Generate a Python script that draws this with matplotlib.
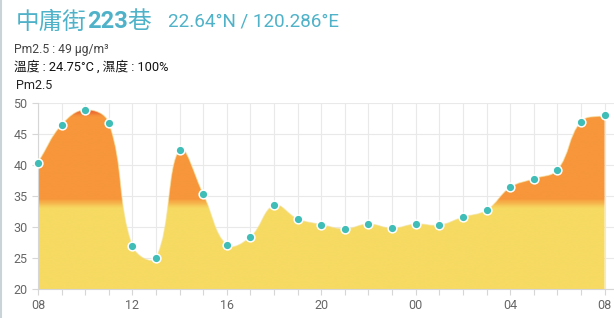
import numpy as np
import matplotlib
matplotlib.use("Agg")
import matplotlib.pyplot as plt
from matplotlib.path import Path
from matplotlib.patches import PathPatch
from matplotlib.colors import LinearSegmentedColormap

plt.rcParams['font.family'] = ['Roboto', 'Noto Sans CJK TC', 'DejaVu Sans']

# hourly PM2.5 readings, 08:00 -> 08:00 next day
hours = ["08", "09", "10", "11", "12", "13", "14", "15", "16", "17", "18", "19",
         "20", "21", "22", "23", "00", "01", "02", "03", "04", "05", "06", "07", "08"]
pm25 = [40.4, 46.5, 48.9, 46.8, 26.9, 25.0, 42.5, 35.3, 27.1, 28.4, 33.5, 31.3,
        30.4, 29.7, 30.5, 29.8, 30.5, 30.3, 31.6, 32.7, 36.4, 37.8, 39.2, 47.0, 48.0]
yticks = [20, 25, 30, 35, 40, 45, 50]

TEAL = "#4fb2c8"
DOT = "#3fbdb6"
GRID = "#e9e9e9"
INK2 = "#666666"
CJK = ['Noto Sans CJK TC', 'DejaVu Sans']

W, H = 614, 318
fig = plt.figure(figsize=(W / 100, H / 100), dpi=100)
ax = fig.add_axes([38 / W, 1 - 289 / H, (W - 38) / W, 186 / H])

x = np.arange(len(pm25), dtype=float)
y = np.array(pm25, float)

# chart.js style bezier control points (tension .4), distances in pixel space
sx, sy, t = 23.63, 6.2, 0.4
cp_prev, cp_next = [], []
for i in range(len(x)):
    p = np.array([x[i], y[i]])
    a = np.array([x[max(i - 1, 0)], y[max(i - 1, 0)]])
    b = np.array([x[min(i + 1, len(x) - 1)], y[min(i + 1, len(x) - 1)]])
    d01 = np.hypot((p[0] - a[0]) * sx, (p[1] - a[1]) * sy)
    d12 = np.hypot((b[0] - p[0]) * sx, (b[1] - p[1]) * sy)
    tot = d01 + d12 if d01 + d12 else 1
    fa, fb = t * d01 / tot, t * d12 / tot
    cp_prev.append(p - fa * (b - a))
    cp_next.append(p + fb * (b - a))

verts = [(x[0], y[0])]
codes = [Path.MOVETO]
for i in range(len(x) - 1):
    verts += [tuple(cp_next[i]), tuple(cp_prev[i + 1]), (x[i + 1], y[i + 1])]
    codes += [Path.CURVE4] * 3
line_path = Path(verts, codes)
fill_verts = verts + [(x[-1], 20), (x[0], 20), (x[0], y[0])]
fill_codes = codes + [Path.LINETO, Path.LINETO, Path.CLOSEPOLY]
fill_path = Path(fill_verts, fill_codes)

# grid
ax.set_xlim(0, 24.4)
ax.set_ylim(20, 50)
ax.set_xticks(range(0, 25))
ax.set_xticklabels([h if i % 4 == 0 else "" for i, h in enumerate(hours)])
ax.set_yticks(yticks)
ax.grid(color=GRID, lw=0.8)
ax.set_axisbelow(True)
for s in ("top", "right"):
    ax.spines[s].set_visible(False)
for s in ("left", "bottom"):
    ax.spines[s].set_color("#d6d6d6")
    ax.spines[s].set_linewidth(0.8)
ax.tick_params(colors="#d6d6d6", labelcolor=INK2, labelsize=9, length=4, width=0.8)

# value-coloured gradient fill
cmap = LinearSegmentedColormap.from_list("pm", [
    (0.0, "#f6da62"), (0.435, "#f6da62"), (0.485, "#f7963b"),
    (0.93, "#f7963b"), (0.97, "#e8582e"), (1.0, "#e0402a")])
grad = np.linspace(0, 1, 300).reshape(-1, 1)
im = ax.imshow(grad, extent=(0, 24, 20, 50), origin="lower", aspect="auto",
               cmap=cmap, zorder=2, interpolation="bilinear")
patch = PathPatch(fill_path, transform=ax.transData, facecolor="none", edgecolor="none")
ax.add_patch(patch)
im.set_clip_path(patch)
ax.add_patch(PathPatch(line_path, facecolor="none", edgecolor="#f4e3a0", lw=0.8,
                       alpha=0.6, zorder=3))
ax.plot(x, y, "o", ms=6.3, mfc=DOT, mec="white", mew=1.1, zorder=5, clip_on=False)

# header texts
fig.canvas.draw()
r = fig.canvas.get_renderer()
xp = 16
for txt, wt, fam in (("中庸街", "light", CJK), ("223", "bold", ["Roboto"]), ("巷", "light", CJK)):
    tt = fig.text(xp / W, 1 - 22 / H, txt, fontsize=17, color=TEAL, weight=wt,
                  family=fam, va="center", ha="left")
    xp += tt.get_window_extent(r).width
fig.text(168 / W, 1 - 22 / H, "22.64°N / 120.286°E", fontsize=13.6, color=TEAL,
         va="center", ha="left")
fig.text(14 / W, 1 - 50 / H, "Pm2.5 : 49 μg/m³", fontsize=8.7, color="#444444",
         va="center", ha="left")
fig.text(14 / W, 1 - 67 / H, "溫度 : 24.75°C , 濕度 : 100%", fontsize=9.2, color="#111111",
         va="center", ha="left")
fig.text(16 / W, 1 - 85 / H, "Pm2.5", fontsize=9, color="#222222",
         va="center", ha="left")
fig.add_artist(plt.Line2D([1 / W, 1 / W], [0, 1], color="#c9d3d8", lw=1.5))

fig.savefig("out.png", dpi=100)
